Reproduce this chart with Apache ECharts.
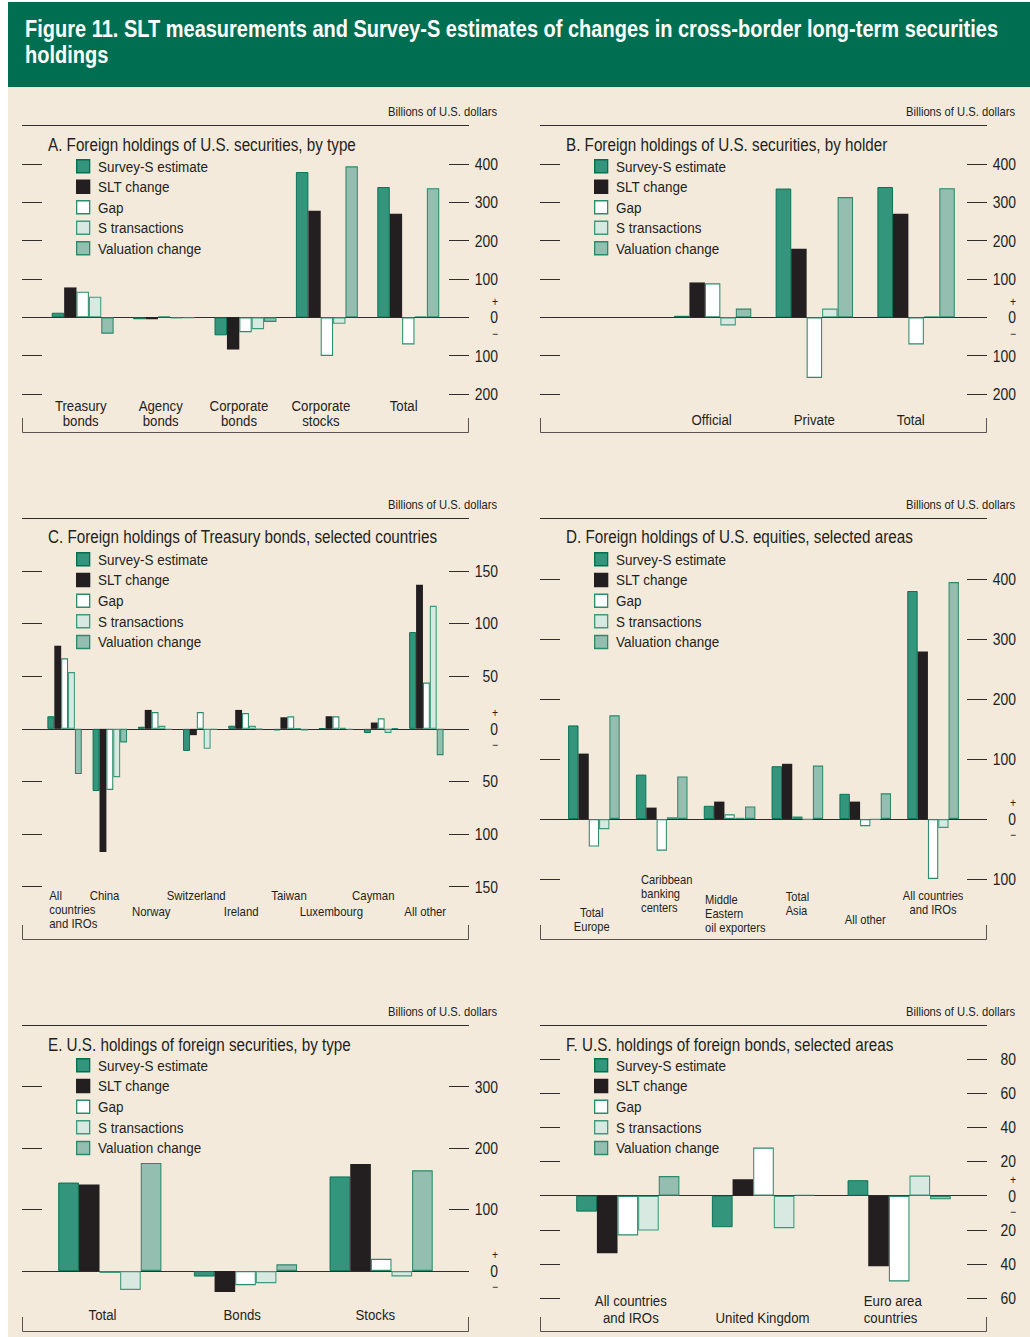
<!DOCTYPE html>
<html>
<head>
<meta charset="utf-8">
<script src="https://cdn.jsdelivr.net/npm/echarts@6/dist/echarts.min.js"></script>
<style>
  html, body { margin: 0; overflow: hidden; }
  body { width: 1030px; height: 1337px; background: #fff; position: relative; }
  #head { position: absolute; left: 8px; top: 2px; width: 1022px; height: 85px; background: #006f51; overflow: hidden; }
  #headText { position: absolute; left: 17px; top: 14px; color: #fff; white-space: nowrap; transform-origin: 0 0;
    font: bold 23px/26px 'Liberation Sans', Arial, sans-serif; }
  #page { position: absolute; left: 8px; top: 87px; width: 1022px; height: 1250px; background: #f3eadc; }
  .chart { position: absolute; transform-origin: 0 0; }
</style>
</head>
<body>
<div id="head"><div id="headText"><div id="headLine1">Figure 11. SLT measurements and Survey-S estimates of changes in cross-border long-term securities</div><div>holdings</div></div></div>
<div id="page"></div>
<div class="chart" id="chartA"></div>
<div class="chart" id="chartB"></div>
<div class="chart" id="chartC"></div>
<div class="chart" id="chartD"></div>
<div class="chart" id="chartE"></div>
<div class="chart" id="chartF"></div>
<script>
const seriesNames = ['Survey-S estimate', 'SLT change', 'Gap', 'S transactions', 'Valuation change']

// A. Foreign holdings of U.S. securities, by type
const catsA = ['Treasury\nbonds', 'Agency\nbonds', 'Corporate\nbonds', 'Corporate\nstocks', 'Total']
const surveyA = [12, -5, -47, 379, 340]
const sltA = [78, -5, -84, 278, 270]
const gapA = [67, 2, -39, -101, -71]
const sTransA = [54, -3, -31, -17, 3]
const valuationA = [-43, -2, -12, 394, 337]
const ticksA = [-200, -100, 0, 100, 200, 300, 400]

// B. Foreign holdings of U.S. securities, by holder
const catsB = ['', 'Official', 'Private', 'Total']
const surveyB = [null, 4, 336, 340]
const sltB = [null, 91, 179, 270]
const gapB = [null, 89, -158, -71]
const sTransB = [null, -21, 23, 3]
const valuationB = [null, 23, 314, 337]
const ticksB = [-200, -100, 0, 100, 200, 300, 400]

// C. Foreign holdings of Treasury bonds, selected countries
const catsC = ['All\ncountries\nand IROs', 'China', 'Norway', 'Switzerland', 'Ireland', 'Taiwan', 'Luxembourg', 'Cayman', 'All other']
const surveyC = [12, -59, 2, -21, 3, -1.5, 0.4, -4, 92]
const sltC = [79, -117, 18, -6, 18, 11, 12, 6, 137]
const gapC = [67, -58, 16, 16, 15, 12, 12, 10, 44]
const sTransC = [54, -46, 3, -19, 3, 0.5, 1, -4, 117]
const valuationC = [-43, -13, -1, -1, -0.5, -1.5, -1, 0.5, -25]
const ticksC = [-150, -100, -50, 0, 50, 100, 150]

// D. Foreign holdings of U.S. equities, selected areas
const catsD = ['Total\nEurope', 'Caribbean\nbanking\ncenters', 'Middle\nEastern\noil exporters', 'Total\nAsia', 'All other', 'All countries\nand IROs']
const surveyD = [156, 74, 22, 88, 42, 380]
const sltD = [109, 19, 29, 92, 29, 279]
const gapD = [-46, -53, 8, 4, -12, -100]
const sTransD = [-17, 3, 2, -1, -1.5, -15]
const valuationD = [173, 71, 21, 89, 43, 395]
const ticksD = [-100, 0, 100, 200, 300, 400]

// E. U.S. holdings of foreign securities, by type
const catsE = ['Total', 'Bonds', 'Stocks']
const surveyE = [144, -9, 154]
const sltE = [141, -34, 174]
const gapE = [-3, -23, 20]
const sTransE = [-31, -20, -9]
const valuationE = [176, 11, 164]
const ticksE = [0, 100, 200, 300]

// F. U.S. holdings of foreign bonds, selected areas
const catsF = ['All countries\nand IROs', 'United Kingdom', 'Euro area\ncountries']
const surveyF = [-9.3, -18.4, 9.1]
const sltF = [-33.6, 9.7, -41.2]
const gapF = [-23.3, 28.2, -50.1]
const sTransF = [-20.4, -19, 11.8]
const valuationF = [11.5, 0.6, -2.1]
const ticksF = [-60, -40, -20, 0, 20, 40, 60, 80]

const FONT = "'Liberation Sans', Arial, sans-serif"
const INK = '#231f20'
// the charts are drawn wider and squeezed back with css, which gives a condensed type face
const K = 0.87
const X = v => v / K

// header line squeezed to its width in the figure
const head = document.getElementById('headText')
head.style.transform = 'scaleX(' + (973 / document.getElementById('headLine1').getBoundingClientRect().width) + ')'

const barStyles = [
  { color: '#33957c', borderColor: '#00704f', borderWidth: 1 },
  { color: '#231f20', borderColor: '#231f20', borderWidth: 0 },
  { color: '#ffffff', borderColor: '#2a8c6c', borderWidth: 1.2 },
  { color: '#d7e9e1', borderColor: '#3d9a7c', borderWidth: 1.2 },
  { color: '#93beb0', borderColor: '#2a8a6b', borderWidth: 1.2 }
]

// vertical layout of each row of panels
const rows = {
  1: { top: 90, height: 355, unitsY: 22, ruleY: 35.5, titleY: 55, legendY: 76, legendStep: 20, bracket: [328, 342.5] },
  2: { top: 490, height: 455, unitsY: 15, ruleY: 28.5, titleY: 47, legendY: 69, legendStep: 20.2, bracket: [435, 449.5] },
  3: { top: 1000, height: 337, unitsY: 12, ruleY: 25.5, titleY: 44.3, legendY: 65, legendStep: 20.2, bracket: [317, 331.5] }
}
const LEGEND_SIZE = 15.5

function panelOption(p) {
  const row = rows[p.row]
  const labelData = p.cats.map((c, i) => {
    const l = p.labels[i] || {}
    const s = X(l.shift || 0)
    return { value: c, textStyle: { padding: [l.top || 0, s < 0 ? -2 * s : 0, 0, s > 0 ? 2 * s : 0] } }
  })
  const tok = (size, lh, align) => ({ fontSize: size, lineHeight: lh, fontFamily: FONT, color: INK, align: align })
  const yCommon = {
    type: 'value',
    gridIndex: 0,
    min: p.min,
    max: p.max,
    axisLine: { show: false },
    splitLine: { show: false },
    axisTick: { show: true, inside: false, length: X(20), customValues: p.ticks, lineStyle: { color: INK, width: 1 } }
  }
  return {
    animation: false,
    textStyle: { fontFamily: FONT, color: INK },
    title: {
      text: p.title,
      left: X(48),
      top: row.titleY - 10,
      padding: 0,
      textStyle: { fontSize: 17.5, fontWeight: 'normal', color: INK, fontFamily: FONT, lineHeight: 20 }
    },
    legend: {
      orient: 'vertical',
      left: X(76),
      top: row.legendY - LEGEND_SIZE / 2,
      padding: 0,
      itemGap: row.legendStep - LEGEND_SIZE,
      itemWidth: X(13),
      itemHeight: 13,
      icon: 'rect',
      selectedMode: false,
      itemStyle: { borderWidth: 1.5 },
      textStyle: { fontSize: LEGEND_SIZE, color: INK, fontFamily: FONT, padding: [0, 0, 0, X(4)] },
      data: seriesNames
    },
    grid: { left: X(42), top: p.top, width: X(407), height: p.height, outerBoundsMode: 'none' },
    xAxis: [
      {
        type: 'category',
        data: p.cats,
        position: 'bottom',
        axisLine: { onZero: true, lineStyle: { color: INK, width: 1 } },
        axisTick: { show: false },
        axisLabel: { show: false }
      },
      {
        type: 'category',
        data: labelData,
        position: 'bottom',
        axisLine: { show: false, onZero: false },
        axisTick: { show: false },
        axisLabel: {
          interval: 0,
          margin: p.labelMargin,
          fontSize: p.labelSize,
          lineHeight: p.labelLine,
          color: INK,
          formatter: (value, index) => {
            if (!value) return ''
            const t = (p.labels[index] || {}).left ? 'l' : 'c'
            return value.split('\n').map(s => '{' + t + '|' + s + '}').join('\n')
          },
          rich: { c: tok(p.labelSize, p.labelLine, 'center'), l: tok(p.labelSize, p.labelLine, 'left') }
        }
      }
    ],
    yAxis: [
      Object.assign({}, yCommon, { position: 'left', axisLabel: { show: false } }),
      Object.assign({}, yCommon, {
        position: 'right',
        axisLabel: {
          show: true,
          customValues: p.ticks,
          margin: X(49),
          align: 'right',
          fontSize: 16,
          color: INK,
          formatter: v => (v === 0 ? '{p|+}\n{z|0}\n{m|−}' : String(Math.abs(v))),
          rich: { p: tok(12, 16, 'right'), z: tok(16, 16, 'right'), m: tok(12, 16, 'right') }
        }
      })
    ],
    series: p.values.map((vals, i) => ({
      type: 'bar',
      name: seriesNames[i],
      data: vals,
      xAxisIndex: 0,
      yAxisIndex: 0,
      barGap: '0%',
      barCategoryGap: '24%',
      silent: true,
      itemStyle: barStyles[i]
    })),
    graphic: [
      {
        type: 'text',
        x: X(497),
        y: row.unitsY,
        style: { text: 'Billions of U.S. dollars', align: 'right', verticalAlign: 'middle', fontSize: 12.9, fontFamily: FONT, fill: INK }
      },
      { type: 'line', shape: { x1: X(22), y1: row.ruleY, x2: X(469), y2: row.ruleY }, style: { stroke: INK, lineWidth: 1 } },
      {
        type: 'polyline',
        shape: { points: [[X(22.5), row.bracket[0]], [X(22.5), row.bracket[1]], [X(468.5), row.bracket[1]], [X(468.5), row.bracket[0]]] },
        style: { stroke: '#4d4849', lineWidth: 1, fill: null }
      }
    ]
  }
}

const panels = [
  {
    id: 'chartA', row: 1, left: 0, title: 'A. Foreign holdings of U.S. securities, by type',
    cats: catsA, values: [surveyA, sltA, gapA, sTransA, valuationA], ticks: ticksA,
    min: -200, max: 400, top: 74, height: 230,
    labelMargin: 4, labelSize: 15.2, labelLine: 15,
    labels: [{ shift: -2 }, { shift: -3.4 }, { shift: -6.5 }, { shift: -6 }, { shift: -4.6 }]
  },
  {
    id: 'chartB', row: 1, left: 518, title: 'B. Foreign holdings of U.S. securities, by holder',
    cats: catsB, values: [surveyB, sltB, gapB, sTransB, valuationB], ticks: ticksB,
    min: -200, max: 400, top: 74, height: 230,
    labelMargin: 18.5, labelSize: 15.2, labelLine: 15,
    labels: [{}, { shift: -1 }, { shift: 0 }, { shift: -5.4 }]
  },
  {
    id: 'chartC', row: 2, left: 0, title: 'C. Foreign holdings of Treasury bonds, selected countries',
    cats: catsC, values: [surveyC, sltC, gapC, sTransC, valuationC], ticks: ticksC,
    min: -150, max: 150, top: 81, height: 315.7,
    labelMargin: 2.3, labelSize: 13.1, labelLine: 14,
    labels: [
      { left: true, shift: 8.7 }, { shift: -5.3 }, { shift: -3.8, top: 16 }, { shift: -4.1 },
      { shift: -4.3, top: 16 }, { shift: -1.7 }, { shift: -4.6, top: 16 }, { shift: -7.9 }, { shift: -1.2, top: 16 }
    ]
  },
  {
    id: 'chartD', row: 2, left: 518, title: 'D. Foreign holdings of U.S. equities, selected areas',
    cats: catsD, values: [surveyD, sltD, gapD, sTransD, valuationD], ticks: ticksD,
    min: -100, max: 400, top: 89, height: 300,
    labelMargin: -8, labelSize: 12.8, labelLine: 14,
    labels: [
      { shift: -2.2, top: 35 }, { left: true, shift: 5, top: 2 }, { left: true, shift: 5.7, top: 22 },
      { left: true, shift: 0, top: 19 }, { shift: 0, top: 42 }, { shift: 0, top: 18 }
    ]
  },
  {
    id: 'chartE', row: 3, left: 0, title: 'E. U.S. holdings of foreign securities, by type',
    cats: catsE, values: [surveyE, sltE, gapE, sTransE, valuationE], ticks: ticksE,
    min: -40, max: 300, top: 86.7, height: 208.9,
    labelMargin: 11.4, labelSize: 15.2, labelLine: 16,
    labels: [{ shift: -7.3 }, { shift: -3.3 }, { shift: -5.9 }]
  },
  {
    id: 'chartF', row: 3, left: 518, title: 'F. U.S. holdings of foreign bonds, selected areas',
    cats: catsF, values: [surveyF, sltF, gapF, sTransF, valuationF], ticks: ticksF,
    min: -60, max: 80, top: 59, height: 239.3,
    labelMargin: -5.8, labelSize: 15.2, labelLine: 17,
    labels: [{ shift: 3 }, { shift: -1, top: 17 }, { left: true, shift: -6.4 }]
  }
]

panels.forEach(p => {
  const row = rows[p.row]
  const el = document.getElementById(p.id)
  el.style.left = p.left + 'px'
  el.style.top = row.top + 'px'
  el.style.width = X(512) + 'px'
  el.style.height = row.height + 'px'
  el.style.transform = 'scaleX(' + K + ')'
  const chart = echarts.init(el, null, { renderer: 'svg' })
  chart.setOption(panelOption(p))
})
</script>
</body>
</html>
